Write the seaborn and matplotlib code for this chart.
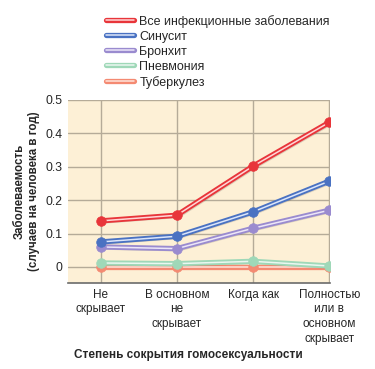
import pandas as pd
import matplotlib.pyplot as plt
import matplotlib.patheffects as pe
from matplotlib.lines import Line2D
import seaborn as sns

# Data
categories = ['Не\nскрывает', 'В основном\nне\nскрывает', 'Когда как',
              'Полностью\nили в\nосновном\nскрывает']
series_names = ['Все инфекционные заболевания', 'Синусит', 'Бронхит',
                'Пневмония', 'Туберкулез']
all_infections = [0.138, 0.155, 0.302, 0.433]
sinusitis = [0.075, 0.092, 0.165, 0.257]
bronchitis = [0.060, 0.055, 0.116, 0.170]
pneumonia = [0.012, 0.010, 0.017, 0.003]
tuberculosis = [0.000, 0.000, 0.000, 0.000]

colors = ['#e8353a', '#4a72c2', '#9a8bcf', '#9fd8b8', '#f48a72']
inner = ['#ffd6d6', '#dbe5fa', '#ece6f8', '#eaf7f0', '#ffe3da']

values = [all_infections, sinusitis, bronchitis, pneumonia, tuberculosis]
rows = []
for name, vals in zip(series_names, values):
    for i, v in enumerate(vals):
        rows.append({'series': name, 'x': i, 'value': v})
df = pd.DataFrame(rows)

sns.set_theme(style='white')
plt.rcParams['font.family'] = ['Liberation Sans', 'DejaVu Sans']

fig = plt.figure(figsize=(3.75, 3.69), dpi=100)
ax = fig.add_axes([0.181, 0.233, 0.699, 0.496])
ax.set_facecolor('#fdf0d6')

# draw in reverse so red ends up on top
for k, (name, col, light) in enumerate(list(zip(series_names, colors, inner))[::-1]):
    sub = df[df['series'] == name]
    sns.lineplot(data=sub, x='x', y='value', ax=ax, color=light, lw=1.1,
                 zorder=3 + 2 * k,
                 path_effects=[pe.SimpleLineShadow(offset=(1.5, -1.5), alpha=0.15),
                               pe.Stroke(linewidth=3.8, foreground=col),
                               pe.Normal()])
    sns.scatterplot(data=sub, x='x', y='value', ax=ax, color=col, s=48,
                    edgecolor=col, linewidth=0.5, zorder=4 + 2 * k)

ax.set_xlim(-0.43, 3.01)
ax.set_ylim(-0.048, 0.5)
ax.set_xticks(range(4))
ax.set_xticklabels(categories, fontsize=8.5, linespacing=1.3, va='top')
ax.set_yticks([0, 0.1, 0.2, 0.3, 0.4, 0.5])
ax.set_yticklabels(['0', '0.1', '0.2', '0.3', '0.4', '0.5'], fontsize=8.8)
ax.tick_params(axis='x', length=0, pad=4)
ax.tick_params(axis='y', length=0, pad=4)
ax.grid(True, color='#b5ab98', lw=1.0)
ax.set_axisbelow(True)
for s in ['top', 'right', 'left']:
    ax.spines[s].set_visible(False)
ax.spines['bottom'].set_color('#6b6b6b')
ax.spines['bottom'].set_linewidth(1.2)

ax.set_xlabel('Степень сокрытия гомосексуальности', fontsize=8.5,
              fontweight='bold')
ax.xaxis.set_label_coords(0.458, -0.36)
ax.set_ylabel('Заболеваемость\n(случаев на человека в год)', fontsize=8.3,
              fontweight='bold', labelpad=4, linespacing=1.2)

handles = [Line2D([], [], color=inn, lw=1.1,
                  path_effects=[pe.Stroke(linewidth=3.8, foreground=c), pe.Normal()])
           for c, inn in zip(colors, inner)]
fig.legend(handles, series_names, loc='upper left',
           bbox_to_anchor=(0.283, 0.96), frameon=False, fontsize=9,
           handlelength=2.2, handletextpad=0.45, labelspacing=0.24,
           borderaxespad=0, borderpad=0)

fig.savefig('out.png', dpi=100)
